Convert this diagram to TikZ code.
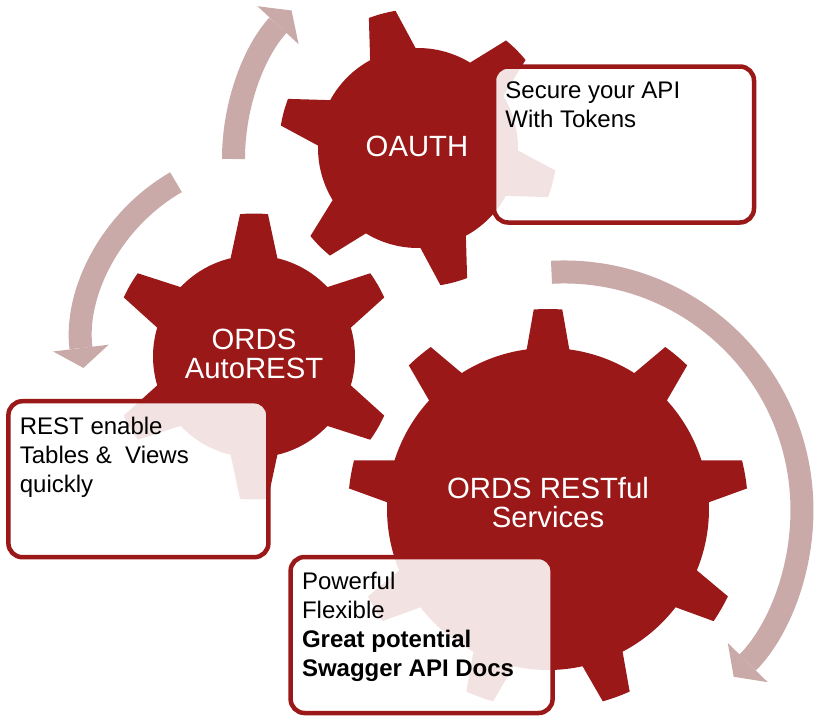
\documentclass[tikz,border=0pt]{standalone}
\usepackage{fontspec}
\setmainfont{Liberation Sans}
\usepackage{tikz}
\usetikzlibrary{arrows.meta}
\definecolor{cogred}{RGB}{154,24,24}
\definecolor{bandpink}{RGB}{201,170,168}
% #1 centre, #2 teeth, #3 first tooth angle, #4 body radius, #5 tip radius,
% #6 half angle of tooth base, #7 half angle of tooth tip
\newcommand{\cog}[7]{%
  \pgfmathsetmacro{\cogstep}{360/#2}
  \fill[cogfill, shift={(#1)}] ({#3-\cogstep+#6}:#4pt)
    \foreach \k in {1,...,#2} {
      arc[start angle={#3+(\k-2)*\cogstep+#6}, end angle={#3+(\k-1)*\cogstep-#6}, radius=#4pt]
      -- ({#3+(\k-1)*\cogstep-#7}:#5pt)
      arc[start angle={#3+(\k-1)*\cogstep-#7}, end angle={#3+(\k-1)*\cogstep+#7}, radius=#5pt]
      -- ({#3+(\k-1)*\cogstep+#6}:#4pt)
    } -- cycle;
}

\begin{document}
\begin{tikzpicture}[x=1pt,y=1pt,
    cogfill/.style={fill=cogred},
    coglabel/.style={text=white, align=center, inner sep=0pt, font=\fontsize{29.3}{29.5}\selectfont},
    descbox/.style={draw=cogred, line width=4.5pt, fill=white, fill opacity=0.88, rounded corners=14pt, minimum width=260pt, minimum height=156pt, inner sep=0pt},
    desctext/.style={anchor=north west, align=left, inner sep=0pt, font=\fontsize{24}{29}\selectfont},
    cyclearrow/.style={draw=bandpink, line width=23pt, -{Triangle[width=56pt,length=20pt,line width=0pt]}}]
    \useasboundingbox (0,0) rectangle (817,-716);
    %
    % curved arrows round the cogs
    \coordinate (upstart) at (233.5,-159);
    \coordinate (leftstart) at (176,-182.2);
    \coordinate (rightstart) at (551.5,-272.3);
    \draw[cyclearrow] (upstart) arc[start angle=180, end angle=137.3, radius=219pt];
    \draw[cyclearrow] (leftstart) arc[start angle=120, end angle=187, radius=188pt];
    \draw[cyclearrow] (rightstart) arc[start angle=93, end angle=-44.5, radius=238pt];
    %
    % cogs
    \coordinate (oauthc) at (418,-148);
    \coordinate (autoc) at (254,-356.5);
    \coordinate (restc) at (548,-509);
    \cog{oauthc}{6}{105}{100}{139}{13.6}{5.7}
    \cog{autoc}{6}{90}{101}{143}{13.4}{5.6}
    \cog{restc}{9}{90}{161}{200}{7.6}{4.1}
    \node[coglabel] (oauth) at (417,-146.5) {OAUTH};
    \node[coglabel] (auto) at (254,-354) {ORDS\\AutoREST};
    \node[coglabel] (rest) at (548,-502.5) {ORDS RESTful\\Services};
    %
    % text boxes
    \node[descbox] (oauthbox) at (624,-144.5) {};
    \node[descbox] (autobox) at (138.4,-479.2) {};
    \node[descbox, minimum width=262pt] (restbox) at (421.6,-635) {};
    \node[desctext] (oauthtext) at ([shift={(13.5,-17.5)}]oauthbox.north west) {Secure your API\\With Tokens};
    \node[desctext] (autotext) at ([shift={(13.5,-17.5)}]autobox.north west) {REST enable\\Tables \& \ Views\\quickly};
    \node[desctext] (resttext) at ([shift={(13.5,-17.5)}]restbox.north west) {Powerful\\Flexible\\\textbf{Great potential}\\\textbf{Swagger API Docs}};
\end{tikzpicture}
\end{document}
